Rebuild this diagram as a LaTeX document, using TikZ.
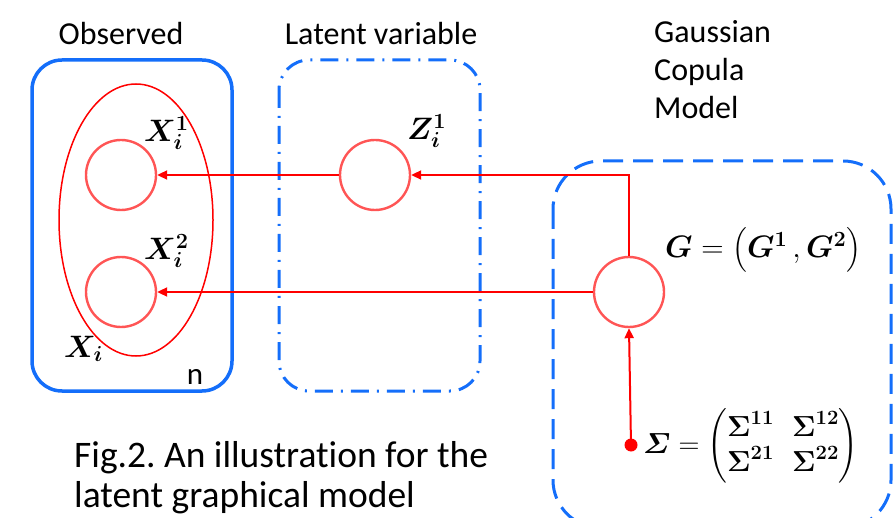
\RequirePackage{fix-cm}
\documentclass[tikz,border=0pt]{standalone}
\usepackage{amsmath,bm}
\usepackage{fontspec}
\setmainfont{Carlito}[Ligatures=NoCommon]
\frenchspacing
\usetikzlibrary{arrows.meta}
\definecolor{pblue}{RGB}{20,110,250}
\definecolor{pred}{RGB}{255,0,0}
\definecolor{cred}{RGB}{255,85,85}
\tikzset{
  x=1pt,y=-1pt,
  plate/.style={draw=pblue,line width=3.5pt,rounded corners=30pt},
  var/.style={circle,draw=cred,line width=2.4pt,minimum size=70pt,inner sep=0pt},
  conn/.style={draw=pred,line width=2pt,-{Triangle[length=10pt,width=9pt]}},
  ttl/.style={font=\fontsize{32}{38}\selectfont,align=left,inner sep=0pt},
  lbl/.style={font=\fontsize{31}{34}\selectfont,inner sep=0pt},
}
\begin{document}
\begin{tikzpicture}
\useasboundingbox (0,0) rectangle (893,518);
\clip (0,0) rectangle (893,518);
% plates
\draw[plate] (32,60) rectangle (232,391);
\draw[plate,line width=3pt,dash pattern=on 18pt off 8pt on 2pt off 8pt] (279,60) rectangle (480,391);
\draw[plate,line width=3pt,rounded corners=48pt,dash pattern=on 20pt off 10pt] (553,161) rectangle (891,528);
% titles
\node[ttl,anchor=base] (tobs) at (121,45) {Observed};
\node[ttl,anchor=base] (tlat) at (381,45) {Latent variable};
\node[ttl,anchor=base west] (tgau) at (654,119) {Gaussian\\Copula\\Model};
\node[font=\fontsize{37.5}{40}\selectfont,align=left,anchor=base west,inner sep=0pt] (cap) at (74,507) {Fig.2. An illustration for the\\latent graphical model};
% ellipse
\draw[pred,line width=1.5pt] (136,220) ellipse [x radius=77pt,y radius=136pt];
% variables
\node[var] (x1) at (121,175) {};
\node[var] (x2) at (121,292) {};
\node[var] (z) at (375,175) {};
\node[var] (g) at (629,292) {};
\node[circle,fill=pred,inner sep=0pt,minimum size=13pt] (s) at (631,445) {};
% labels
\node[lbl,anchor=base west] (lx1) at (144,142) {$\bm{X_i^1}$};
\node[lbl,anchor=base west] (lx2) at (144,260) {$\bm{X_i^2}$};
\node[lbl,anchor=base west] (lxi) at (64,357) {$\bm{X_i}$};
\node[font=\fontsize{31}{34}\selectfont,anchor=base] (ln) at (195,384) {n};
\node[lbl,anchor=base west] (lz) at (407,140) {$\bm{Z_i^1}$};
\node[lbl,anchor=west] (lg) at (665,250) {$\bm{G}=\bigl(\bm{G^1}\,,\bm{G^2}\bigr)$};
\node[lbl,anchor=west,font=\fontsize{29}{32}\selectfont] (ls) at (643,446) {$\bm{\varSigma}=\setlength{\arraycolsep}{9pt}\begin{pmatrix}\bm{\Sigma^{11}} & \bm{\Sigma^{12}}\\ \bm{\Sigma^{21}} & \bm{\Sigma^{22}}\end{pmatrix}$};
% connectors
\draw[conn] (g.north) |- (z.east);
\draw[conn] (z.west) -- (x1.east);
\draw[conn] (g.west) -- (x2.east);
\draw[conn] (s.center) -- (g.south);
\end{tikzpicture}
\end{document}
